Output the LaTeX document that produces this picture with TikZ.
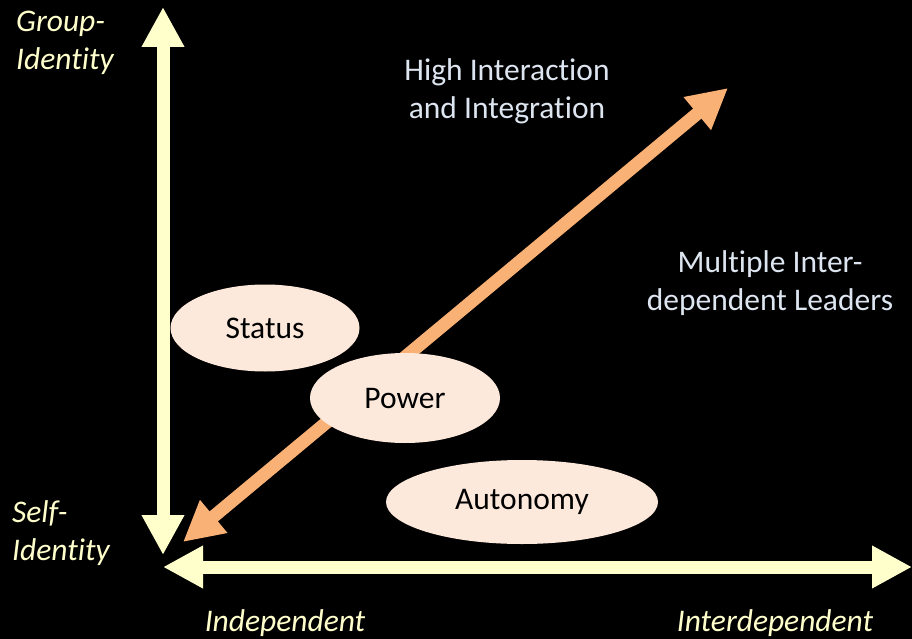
\documentclass[tikz,border=0pt]{standalone}
\usepackage{fontspec}
\setmainfont{Carlito}[Ligatures=NoCommon]
\usetikzlibrary{arrows.meta,shapes.geometric}
\definecolor{cream}{HTML}{FFFFCC}
\definecolor{peach}{HTML}{FAB176}
\definecolor{blush}{HTML}{FDE9DC}
\definecolor{mist}{HTML}{DDE5F0}

\begin{document}
\begin{tikzpicture}[x=1pt, y=-1pt,
    axis/.style={draw=cream, line width=13pt,
      {Triangle[length=40pt,width=40pt]}-{Triangle[length=40pt,width=40pt]}},
    trend/.style={draw=peach, line width=13pt,
      {Triangle[length=40pt,width=40pt]}-{Triangle[length=40pt,width=40pt]}},
    blob/.style={ellipse, fill=blush, inner sep=0pt, text=black,
      font=\fontsize{31.5}{38}\selectfont},
    axlbl/.style={text=cream, inner sep=0pt, align=left,
      font=\fontsize{31.5}{38}\selectfont\itshape},
    note/.style={text=mist, inner sep=0pt, align=center,
      font=\fontsize{31.5}{38}\selectfont}]
    \fill[black] (0,0) rectangle (912,639);
    \useasboundingbox (0,0) rectangle (912,639);

    % axes
    \coordinate (gtop) at (163,7);
    \coordinate (gbot) at (163,555);
    \coordinate (hleft) at (163,567);
    \coordinate (hright) at (912,567);
    \draw[axis] (gbot) -- (gtop);
    \draw[axis] (hleft) -- (hright);

    % diagonal
    \coordinate (dlow) at (183,542);
    \coordinate (dhigh) at (728,88);
    \draw[trend] (dlow) -- (dhigh);

    \node[blob, minimum width=189pt, minimum height=87pt] (status) at (265,328) {Status};
    \node[blob, minimum width=190pt, minimum height=90pt] (power) at (405,398) {Power};
    \node[blob, minimum width=272pt, minimum height=84pt] (autonomy) at (522,502) {Autonomy};

    \node[axlbl, anchor=west] (group) at (16,43) {Group-\\Identity};
    \node[axlbl, anchor=west] (self) at (12,533) {Self-\\Identity};
    \node[axlbl] (indep) at (285,623) {Independent};
    \node[axlbl] (interdep) at (775,623) {Interdependent};

    \node[note] (high) at (507,91) {High Interaction\\and Integration};
    \node[note] (multi) at (770,283) {Multiple Inter-\\dependent Leaders};
\end{tikzpicture}
\end{document}
